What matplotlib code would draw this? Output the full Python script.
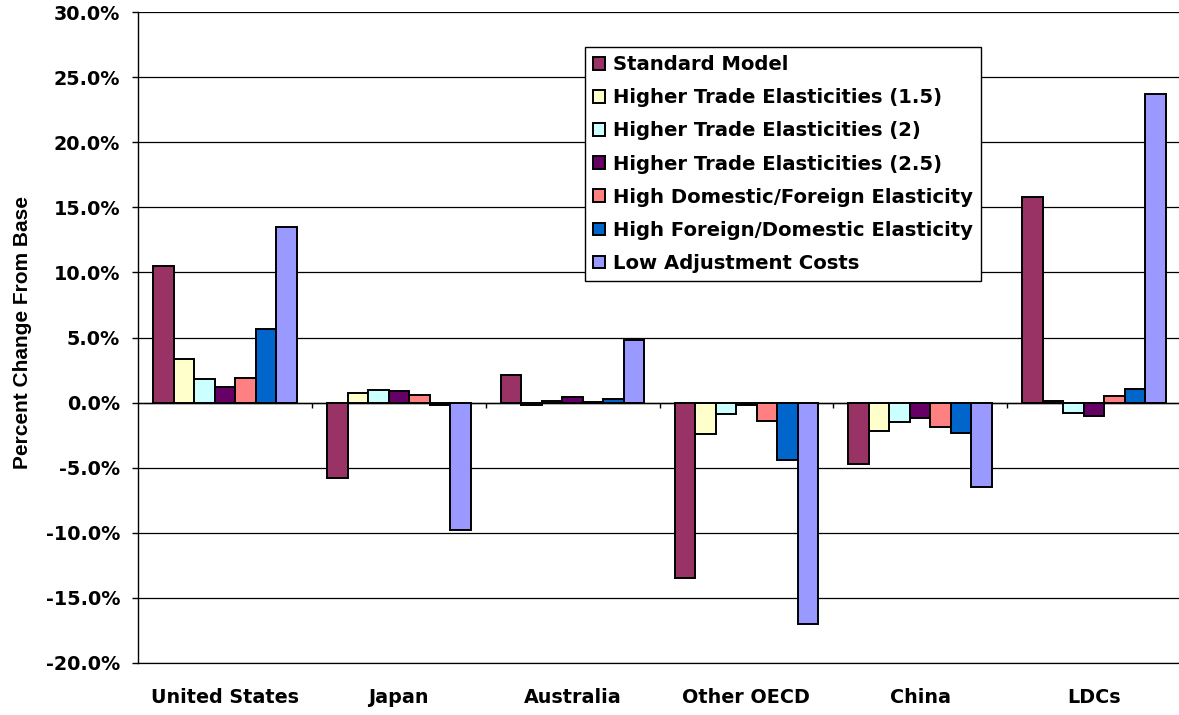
import numpy as np
import matplotlib
matplotlib.use('Agg')
import matplotlib.pyplot as plt
from matplotlib.ticker import FuncFormatter

regions = ['United States', 'Japan', 'Australia', 'Other OECD', 'China', 'LDCs']

series_names = [
    'Standard Model',
    'Higher Trade Elasticities (1.5)',
    'Higher Trade Elasticities (2)',
    'Higher Trade Elasticities (2.5)',
    'High Domestic/Foreign Elasticity',
    'High Foreign/Domestic Elasticity',
    'Low Adjustment Costs',
]

# percent change from base, one list per scenario (order follows regions)
standard_model = [10.5, -5.76, 2.13, -13.47, -4.71, 15.8]
trade_elast_15 = [3.36, 0.71, -0.15, -2.41, -2.2, 0.13]
trade_elast_2 = [1.78, 0.97, 0.1, -0.87, -1.46, -0.77]
trade_elast_25 = [1.19, 0.92, 0.45, -0.2, -1.2, -1.02]
dom_foreign = [1.86, 0.6, 0.02, -1.44, -1.9, 0.48]
foreign_dom = [5.67, -0.15, 0.25, -4.38, -2.36, 1.02]
low_adjust = [13.5, -9.82, 4.79, -17.03, -6.46, 23.68]

series_values = [standard_model, trade_elast_15, trade_elast_2, trade_elast_25,
                 dom_foreign, foreign_dom, low_adjust]

colors = ['#993366', '#FFFFCC', '#CCFFFF', '#660066', '#FF8080', '#0066CC', '#9999FF']

fig = plt.figure(figsize=(11.79, 7.15), dpi=100)
ax = fig.add_axes([138.1 / 1179, 1 - 663 / 715, 1042.8 / 1179, 651 / 715])

x = np.arange(len(regions))
bar_w = 0.118
n = len(series_names)
for i, (name, vals, col) in enumerate(zip(series_names, series_values, colors)):
    offset = (i - (n - 1) / 2) * bar_w
    ax.bar(x + offset, vals, width=bar_w, color=col, edgecolor='black',
           linewidth=1.4, label=name, zorder=3)

ax.set_xlim(-0.5, len(regions) - 0.5)
ax.set_ylim(-20, 30)
ax.set_yticks(np.arange(-20, 31, 5))
ax.yaxis.set_major_formatter(FuncFormatter(lambda v, p: f'{v:.1f}%'))
ax.yaxis.grid(True, color='black', linewidth=0.9)
ax.set_axisbelow(True)

# zero line with small category separator ticks
ax.axhline(0, color='black', linewidth=1.0, zorder=2)
ax.vlines(x[:-1] + 0.5, -0.4, 0, color='black', linewidth=1.0, zorder=2)

for side in ['top', 'right']:
    ax.spines[side].set_visible(False)
ax.spines['left'].set_linewidth(1.0)
ax.spines['bottom'].set_linewidth(0.9)

ax.set_xticks(x)
ax.set_xticklabels(regions)
ax.tick_params(axis='x', length=0, pad=18)
ax.tick_params(axis='y', length=4, width=1.0, pad=9)
for lbl in ax.get_xticklabels() + ax.get_yticklabels():
    lbl.set_fontfamily('DejaVu Sans')
    lbl.set_fontweight('bold')
    lbl.set_fontsize(13.8)

ax.set_ylabel('Percent Change From Base', fontsize=15, fontweight='bold',
              fontfamily='Liberation Sans')
ax.yaxis.set_label_coords(-0.1104, 0.508)
ax.yaxis.label.set_verticalalignment('center')

leg = ax.legend(loc='upper left', bbox_to_anchor=(0.4286, 0.9462),
                prop={'family': 'DejaVu Sans', 'weight': 'bold', 'size': 14.1},
                frameon=True, fancybox=False, shadow=False, borderaxespad=0,
                handlelength=0.62, handleheight=0.62, handletextpad=0.4,
                labelspacing=0.72, borderpad=0.42)
leg.get_frame().set_edgecolor('black')
leg.get_frame().set_linewidth(1.0)
leg.get_frame().set_alpha(1)

fig.savefig('out.png', dpi=100)
